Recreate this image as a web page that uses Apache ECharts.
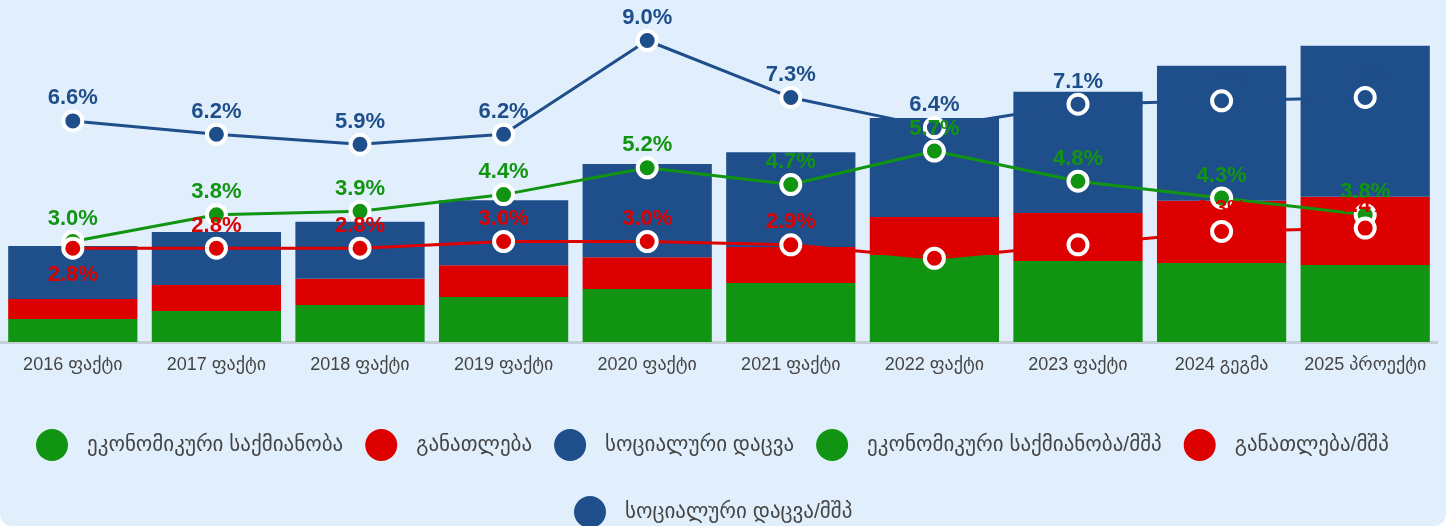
<!DOCTYPE html>
<html>
<head>
<meta charset="utf-8">
<script src="https://cdn.jsdelivr.net/npm/echarts@6/dist/echarts.min.js"></script>
<style>
  html, body { margin: 0; padding: 0; background: #ffffff; }
  #chart {
    width: 1446px; height: 526px;
    background: #e1effd;
    border-radius: 0 0 12px 12px;
    overflow: hidden;
  }
</style>
</head>
<body>
<div id="chart"></div>
<script>
// Budget spending by function (million GEL) and the same as a share of GDP (%)
const categories = ['2016 ფაქტი', '2017 ფაქტი', '2018 ფაქტი', '2019 ფაქტი', '2020 ფაქტი',
                    '2021 ფაქტი', '2022 ფაქტი', '2023 ფაქტი', '2024 გეგმა', '2025 პროექტი'];

const economyValues   = [1030, 1390, 1660, 2010, 2370, 2640, 3900, 3630, 3540, 3450];
const educationValues = [900, 1160, 1170, 1430, 1430, 1610, 1700, 2150, 2780, 3050];
const socialValues    = [2370, 2370, 2550, 2910, 4170, 4250, 4430, 5420, 6050, 6760];

const economyShare   = [3.0, 3.8, 3.9, 4.4, 5.2, 4.7, 5.7, 4.8, 4.3, 3.8];
const educationShare = [2.8, 2.8, 2.8, 3.0, 3.0, 2.9, 2.5, 2.9, 3.3, 3.4];
const socialShare    = [6.6, 6.2, 5.9, 6.2, 9.0, 7.3, 6.4, 7.1, 7.2, 7.3];

const names = ['ეკონომიკური საქმიანობა', 'განათლება', 'სოციალური დაცვა',
               'ეკონომიკური საქმიანობა/მშპ', 'განათლება/მშპ', 'სოციალური დაცვა/მშპ'];

const GREEN = '#119411';
const RED = '#dd0000';
const BLUE = '#1f4f8a';
const FONT = '"Liberation Sans", Arial, "DejaVu Sans", sans-serif';

function barSeries(name, data, color) {
  return {
    name, type: 'bar', stack: 'spend', data,
    barWidth: '90%', yAxisIndex: 0,
    itemStyle: { color },
    z: 2
  };
}

function lineSeries(name, data, color, labelPositions) {
  return {
    name, type: 'line', yAxisIndex: 1, z: 5,
    data: data.map((v, i) => labelPositions && labelPositions[i]
      ? { value: v, label: { position: labelPositions[i], distance: 4 } }
      : v),
    symbol: 'circle', symbolSize: 19,
    lineStyle: { color, width: 3 },
    itemStyle: { color, borderColor: '#ffffff', borderWidth: 4 },
    label: {
      show: true, position: 'top', distance: 0,
      color, fontFamily: FONT, fontSize: 22, fontWeight: 'bold',
      formatter: p => Number(p.value).toFixed(1) + '%'
    }
  };
}

const legendText = { color: '#444444', fontSize: 21, fontFamily: FONT };
const legendCommon = {
  itemWidth: 60, itemHeight: 32, itemGap: 22,
  itemStyle: { borderWidth: 0 },
  textStyle: legendText,
  selectedMode: false
};

const chart = echarts.init(document.getElementById('chart'), null, { renderer: 'canvas' });
chart.setOption({
  animation: false,
  backgroundColor: 'transparent',
  grid: { left: 1, right: 9, top: 7, bottom: 184, containLabel: false },
  xAxis: {
    type: 'category', data: categories,
    axisLine: { show: true, lineStyle: { color: '#c6ced8', width: 3 } },
    axisTick: { show: false },
    axisLabel: { interval: 0, color: '#444444', fontSize: 18, fontFamily: FONT, margin: 14 }
  },
  yAxis: [
    { type: 'value', min: 0, max: 15000, show: false, splitLine: { show: false } },
    { type: 'value', min: 0, max: 10, show: false, splitLine: { show: false } }
  ],
  legend: [
    Object.assign({
      data: names.slice(0, 5).map(n => ({ name: n, icon: 'circle' })),
      left: 31, top: 424
    }, legendCommon),
    Object.assign({
      data: [{ name: names[5], icon: 'circle' }],
      left: 569, top: 491
    }, legendCommon)
  ],
  series: [
    barSeries(names[0], economyValues, GREEN),
    barSeries(names[1], educationValues, RED),
    barSeries(names[2], socialValues, BLUE),
    lineSeries(names[3], economyShare, GREEN),
    lineSeries(names[4], educationShare, RED, ['bottom']),
    lineSeries(names[5], socialShare, BLUE)
  ]
});
</script>
</body>
</html>
